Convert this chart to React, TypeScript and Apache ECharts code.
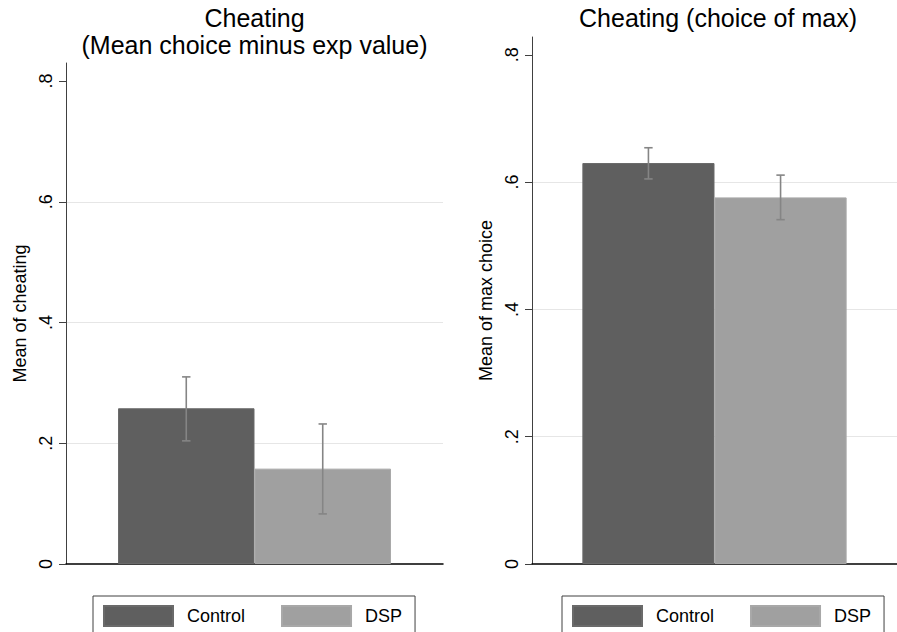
import React, { useEffect, useRef } from "react";
import * as echarts from "echarts";

const groups = ["Control", "DSP"];
const colors = ["#5f5f5f", "#a0a0a0"];

// Panel 1: Cheating (Mean choice minus exp value)
const cheatMean = [0.258, 0.158];
const cheatLow = [0.204, 0.083];
const cheatHigh = [0.31, 0.232];

// Panel 2: Cheating (choice of max)
const maxMean = [0.63, 0.576];
const maxLow = [0.605, 0.541];
const maxHigh = [0.654, 0.611];

const yTicks = [0, 0.2, 0.4, 0.6, 0.8];
const yTickLabels = ["0", ".2", ".4", ".6", ".8"];

const FONT = "'Liberation Sans', Arial, Helvetica, sans-serif";
const BAR_FRAC = 0.362;

function fmtTick(v: number) {
  const i = yTicks.findIndex((t) => Math.abs(t - v) < 1e-6);
  return i >= 0 ? yTickLabels[i] : "";
}

export default function App() {
  const ref = useRef<HTMLDivElement>(null);

  useEffect(() => {
    document.body.style.margin = "0";
    if (!ref.current) return;
    const chart = echarts.init(ref.current, undefined, { renderer: "svg" });

    const grids = [
      { left: 66, top: 63, width: 377, height: 501 },
      { left: 532, top: 37, width: 377, height: 527 },
    ];
    const yMax = [0.83, 0.828];
    const yNames = ["Mean of cheating", "Mean of max choice"];

    const xAxes = grids.map((_, i) => ({
      type: "category",
      gridIndex: i,
      data: [""],
      axisLine: { show: true, onZero: true, lineStyle: { color: "#000", width: 1.5 } },
      axisTick: { show: false },
      axisLabel: { show: false },
      splitLine: { show: false },
    }));

    const yAxes = grids.map((_, i) => ({
      type: "value",
      gridIndex: i,
      min: 0,
      max: yMax[i],
      interval: 0.2,
      name: yNames[i],
      nameLocation: "middle",
      nameRotate: 90,
      nameGap: 37,
      nameTextStyle: { fontFamily: FONT, fontSize: 18, color: "#000" },
      axisLine: { show: true, lineStyle: { color: "#404040", width: 1 } },
      axisTick: {
        show: true,
        length: 7,
        customValues: yTicks,
        lineStyle: { color: "#404040", width: 1 },
      },
      axisLabel: {
        show: true,
        rotate: 90,
        margin: 11,
        customValues: yTicks,
        formatter: (v: number) => fmtTick(v),
        fontFamily: FONT,
        fontSize: 18,
        color: "#000",
      },
      splitLine: {
        show: true,
        showMinLine: false,
        showMaxLine: false,
        lineStyle: { color: "#e6e6e6", width: 1 },
      },
    }));

    const means = [cheatMean, maxMean];
    const lows = [cheatLow, maxLow];
    const highs = [cheatHigh, maxHigh];

    const series: any[] = [];
    for (let p = 0; p < 2; p++) {
      groups.forEach((g, gi) => {
        series.push({
          type: "bar",
          name: g,
          xAxisIndex: p,
          yAxisIndex: p,
          data: [means[p][gi]],
          barWidth: BAR_FRAC * 100 + "%",
          barGap: "0%",
          itemStyle: { color: colors[gi], borderColor: gi === 0 ? "#6a6a6a" : "#a8a8a8", borderWidth: 1 },
          emphasis: { disabled: true },
          silent: true,
        });
      });
      series.push({
        type: "custom",
        name: "ci" + p,
        xAxisIndex: p,
        yAxisIndex: p,
        z: 5,
        silent: true,
        clip: false,
        data: groups.map((_, gi) => [0, lows[p][gi], highs[p][gi], gi]),
        encode: { x: 0, y: [1, 2] },
        renderItem: (params: any, api: any) => {
          const gi = api.value(3);
          const lo = api.coord([0, api.value(1)]);
          const hi = api.coord([0, api.value(2)]);
          const band = api.size([1, 0])[0];
          const x = lo[0] + (gi - 0.5) * band * BAR_FRAC;
          const cap = 4.2;
          const style = { stroke: "#858585", lineWidth: 1.6 };
          return {
            type: "group",
            children: [
              { type: "line", shape: { x1: x, y1: lo[1], x2: x, y2: hi[1] }, style },
              { type: "line", shape: { x1: x - cap, y1: lo[1], x2: x + cap, y2: lo[1] }, style },
              { type: "line", shape: { x1: x - cap, y1: hi[1], x2: x + cap, y2: hi[1] }, style },
            ],
          };
        },
      });
    }

    const legendBase = {
      orient: "horizontal",
      top: 596,
      padding: [9, 13, 6, 10],
      itemWidth: 69,
      itemHeight: 20,
      itemGap: 36,
      borderColor: "#404040",
      borderWidth: 1,
      icon: "rect",
      selectedMode: false,
      data: groups,
      textStyle: { fontFamily: FONT, fontSize: 18, color: "#000", padding: [0, 0, 0, 9] },
    };

    chart.setOption({
      animation: false,
      backgroundColor: "#ffffff",
      textStyle: { fontFamily: FONT },
      title: [
        {
          text: "Cheating\n(Mean choice minus exp value)",
          left: 254.5,
          top: 4,
          textAlign: "center",
          padding: 0,
          textStyle: { fontFamily: FONT, fontSize: 25, fontWeight: "normal", color: "#000", lineHeight: 27 },
        },
        {
          text: "Cheating (choice of max)",
          left: 718,
          top: 4,
          textAlign: "center",
          padding: 0,
          textStyle: { fontFamily: FONT, fontSize: 25, fontWeight: "normal", color: "#000", lineHeight: 27 },
        },
      ],
      legend: [
        { ...legendBase, left: 93 },
        { ...legendBase, left: 562 },
      ],
      grid: grids,
      xAxis: xAxes,
      yAxis: yAxes,
      series,
    });

    return () => chart.dispose();
  }, []);

  return <div ref={ref} style={{ width: 897, height: 632 }} />;
}
